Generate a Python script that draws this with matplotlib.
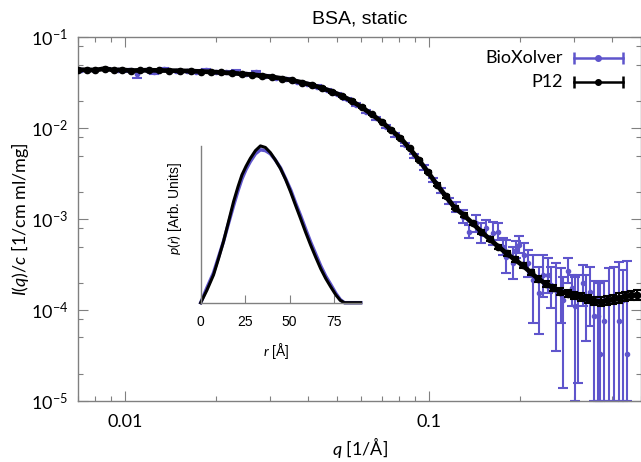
import numpy as np
import matplotlib
matplotlib.use("Agg")
import matplotlib.pyplot as plt
from matplotlib.ticker import LogLocator, FixedLocator, FuncFormatter, NullFormatter

plt.rcParams['font.family'] = ['Lato', 'DejaVu Sans']
plt.rcParams['mathtext.fontset'] = 'custom'
plt.rcParams['mathtext.rm'] = 'Lato'
plt.rcParams['mathtext.it'] = 'Lato:italic'

BLUE = '#5f55cc'
GREY = '#808080'

# P12 curve (q in 1/A, I/c)
p12_q = [0.0070, 0.0075, 0.0080, 0.0086, 0.0092, 0.0098, 0.0105, 0.0112, 0.0120,
         0.0130, 0.0140, 0.0152, 0.0165, 0.0178, 0.0192, 0.0208, 0.0225, 0.0243,
         0.0262, 0.0283, 0.0306, 0.0330, 0.0356, 0.0384, 0.0414, 0.0447, 0.0482,
         0.0520, 0.0560, 0.0603, 0.0650, 0.0700, 0.0752, 0.0808, 0.0866, 0.0928,
         0.0994, 0.1065, 0.1140, 0.1220, 0.1305, 0.1395, 0.1490, 0.1590, 0.1695,
         0.1805, 0.1920, 0.2040, 0.2165, 0.2295, 0.2430, 0.2570, 0.2715, 0.2865,
         0.3020, 0.3180, 0.3345, 0.3515, 0.3690, 0.3870, 0.4055, 0.4245, 0.4440,
         0.4640, 0.4850]
p12_I = [0.0440, 0.0438, 0.0436, 0.0452, 0.0436, 0.0438, 0.0430, 0.0433, 0.0434,
         0.0432, 0.0430, 0.0428, 0.0425, 0.0420, 0.0416, 0.0410, 0.0404, 0.0396,
         0.0388, 0.0378, 0.0366, 0.0352, 0.0336, 0.0318, 0.0298, 0.0276, 0.0252,
         0.0226, 0.0198, 0.0170, 0.0142, 0.0118, 0.0096, 0.0078, 0.0060, 0.0045,
         0.0033, 0.0024, 0.00178, 0.00133, 0.00111, 0.00090, 0.00073, 0.00060, 0.00050,
         0.00042, 0.00036, 0.00031, 0.00026, 0.00022, 0.000195, 0.000175, 0.000160, 0.000152,
         0.000146, 0.000140, 0.000132, 0.000126, 0.000124, 0.000128, 0.000132, 0.000137, 0.000142,
         0.000145, 0.000148]
p12_relerr = [0.02] * 36 + [0.03, 0.03, 0.03, 0.04, 0.04, 0.04, 0.05, 0.05, 0.05,
                            0.06, 0.06, 0.06, 0.07, 0.07, 0.08, 0.08, 0.08, 0.09,
                            0.09, 0.10, 0.10, 0.10, 0.11, 0.11, 0.11, 0.12, 0.12,
                            0.12, 0.12]

# BioXolver, low q (small errors)
bx_q_lo = [0.0072, 0.0079, 0.0087, 0.0095, 0.0103, 0.0110, 0.0118, 0.0125, 0.0135,
           0.0148, 0.0160, 0.0172, 0.0185, 0.0200, 0.0215, 0.0232, 0.0250, 0.0270,
           0.0290, 0.0315, 0.0340, 0.0368, 0.0397, 0.0428, 0.0462, 0.0498, 0.0537,
           0.0578, 0.0623, 0.0671, 0.0723, 0.0777, 0.0836, 0.0897, 0.0962, 0.1030,
           0.1100, 0.1170]
bx_I_lo = [0.0438, 0.0440, 0.0445, 0.0440, 0.0432, 0.0390, 0.0435, 0.0412, 0.0450,
           0.0430, 0.0428, 0.0420, 0.0432, 0.0415, 0.0410, 0.0420, 0.0395, 0.0412,
           0.0378, 0.0360, 0.0345, 0.0324, 0.0306, 0.0286, 0.0262, 0.0238, 0.0210,
           0.0182, 0.0152, 0.0128, 0.0104, 0.0085, 0.0066, 0.0050, 0.0037, 0.0027,
           0.00205, 0.00158]
bx_err_lo = [0.0012, 0.0012, 0.0012, 0.0012, 0.0012, 0.0030, 0.0012, 0.0020, 0.0014,
             0.0012, 0.0012, 0.0012, 0.0012, 0.0012, 0.0012, 0.0012, 0.0012, 0.0012,
             0.0011, 0.0010, 0.0010, 0.0010, 0.0009, 0.0009, 0.0008, 0.0008, 0.0007,
             0.0006, 0.0005, 0.0005, 0.0004, 0.0004, 0.0003, 0.00025, 0.0002, 0.00016,
             0.00013, 0.00011]

# BioXolver, high q (centre, lower and upper end of error bar)
bx_q_hi = [0.1230, 0.1294, 0.1361, 0.1431, 0.1487, 0.1544, 0.1624, 0.1687, 0.1751,
           0.1796, 0.1889, 0.1938, 0.1987, 0.2064, 0.2117, 0.2210, 0.2301, 0.2372,
           0.2463, 0.2527, 0.2624, 0.2725, 0.2774, 0.2866, 0.2962, 0.3030, 0.3107,
           0.3211, 0.3293, 0.3394, 0.3508, 0.3597, 0.3661, 0.3783, 0.3929, 0.4060,
           0.4217, 0.4346, 0.4480]
bx_I_hi = [1.377e-3, 1.069e-3, 7.31e-4, 9.03e-4, 7.02e-4, 7.96e-4, 7.02e-4, 7.31e-4, 5.00e-4,
           3.88e-4, 3.33e-4, 4.60e-4, 5.26e-4, 4.06e-4, 3.28e-4, 2.15e-4, 1.53e-4, 2.44e-4,
           2.44e-4, 1.90e-4, 1.67e-4, 1.67e-4, 1.30e-4, 2.72e-4, 1.74e-4, 1.10e-4, 1.35e-4,
           1.98e-4, 1.30e-4, 1.60e-4, 8.51e-5, 8.51e-5, 3.31e-5, 7.50e-5, 1.30e-4, 1.41e-4,
           7.50e-5, 1.30e-4, 3.28e-5]
bx_low_hi = [1.213e-3, 9.03e-4, 6.18e-4, 7.31e-4, 5.45e-4, 6.45e-4, 5.22e-4, 5.92e-4, 4.06e-4,
             2.55e-4, 2.21e-4, 3.72e-4, 4.23e-4, 3.01e-4, 2.34e-4, 7.19e-5, 5.49e-5, 1.41e-4,
             1.53e-4, 1.05e-4, 3.51e-5, 7.19e-5, 1.39e-5, 1.98e-4, 1.10e-4, 1.0e-5, 1.57e-5,
             1.10e-4, 4.52e-5, 6.61e-5, 1.0e-5, 1.0e-5, 1.0e-5, 1.0e-5, 1.0e-5, 1.0e-5,
             1.0e-5, 1.0e-5, 1.0e-5]
bx_up_hi = [1.563e-3, 1.265e-3, 8.65e-4, 1.115e-3, 9.03e-4, 9.82e-4, 9.42e-4, 9.03e-4, 6.18e-4,
            5.92e-4, 5.00e-4, 5.68e-4, 6.55e-4, 5.45e-4, 4.60e-4, 4.06e-4, 3.01e-4, 4.06e-4,
            3.72e-4, 3.01e-4, 3.28e-4, 2.89e-4, 2.34e-4, 3.72e-4, 2.44e-4, 2.34e-4, 2.44e-4,
            3.15e-4, 2.44e-4, 3.01e-4, 2.07e-4, 1.98e-4, 1.98e-4, 2.07e-4, 2.89e-4, 3.01e-4,
            3.42e-4, 2.77e-4, 3.48e-4]

# inset p(r)
pr_r = [0, 3.5, 7.2, 10, 12.8, 15.5, 18.5, 21, 23.2, 25.5, 27.9, 30.8, 33.6, 36.4,
        39.2, 42, 44.9, 47.8, 50.6, 53.4, 56.2, 59, 61.9, 64.7, 67.5, 70.3, 73.2,
        76, 78.5, 80.8, 90]
pr_p12 = [0, 0.08, 0.177, 0.28, 0.389, 0.51, 0.645, 0.74, 0.815, 0.87, 0.92, 0.97,
          1.0, 0.99, 0.957, 0.91, 0.855, 0.785, 0.706, 0.62, 0.536, 0.45, 0.366,
          0.29, 0.217, 0.155, 0.100, 0.05, 0.015, 0, 0]
pr_bx = [0, 0.095, 0.19, 0.29, 0.39, 0.50, 0.62, 0.715, 0.79, 0.85, 0.90, 0.95,
         0.975, 0.97, 0.95, 0.91, 0.86, 0.79, 0.72, 0.635, 0.555, 0.47, 0.385,
         0.31, 0.235, 0.17, 0.115, 0.06, 0.02, 0, 0]


fig = plt.figure(figsize=(6.41, 4.62), dpi=100)
ax = fig.add_axes([0.1212, 0.1320, 0.8788, 0.7873])
ax.set_xscale('log')
ax.set_yscale('log')
ax.set_xlim(0.007, 0.5)
ax.set_ylim(1e-5, 1e-1)

# BioXolver under P12
ax.errorbar(np.array(bx_q_lo), np.array(bx_I_lo), yerr=np.array(bx_err_lo), fmt='o',
            ms=3, color=BLUE, ecolor=BLUE, elinewidth=1.5, capsize=3.5, capthick=1.5,
            zorder=2)
qh = np.array(bx_q_hi)
Ih = np.array(bx_I_hi)
yerr_h = [Ih - np.array(bx_low_hi), np.array(bx_up_hi) - Ih]
eb = ax.errorbar(qh, Ih, yerr=yerr_h, fmt='o', ms=3, color=BLUE, ecolor=BLUE,
                 elinewidth=1.5, capsize=3.5, capthick=1.5, zorder=2)
for art in eb.lines[1] + eb.lines[2]:
    art.set_clip_on(False)

pq = np.array(p12_q)
pI = np.array(p12_I)
ax.errorbar(pq, pI, yerr=pI * np.array(p12_relerr), fmt='o-', ms=4.5, lw=3.4,
            color='black', ecolor='black', elinewidth=1.5, capsize=3, capthick=1.5,
            zorder=3)

# ticks
ax.xaxis.set_major_locator(FixedLocator([0.01, 0.1]))
ax.xaxis.set_minor_locator(LogLocator(base=10, subs=np.arange(2, 10)))
ax.xaxis.set_major_formatter(FuncFormatter(lambda v, p: f'{v:g}'))
ax.xaxis.set_minor_formatter(NullFormatter())
ax.yaxis.set_major_locator(LogLocator(base=10, numticks=10))
ax.yaxis.set_minor_locator(LogLocator(base=10, subs=(2, 5, 8), numticks=10))
ax.yaxis.set_major_formatter(FuncFormatter(
    lambda v, p: '$\\mathregular{10^{%d}}$' % int(round(np.log10(v)))))
ax.yaxis.set_minor_formatter(NullFormatter())
ax.tick_params(which='both', direction='in', top=True, right=True, color=GREY, width=0.8)
ax.tick_params(which='major', length=7)
ax.tick_params(which='minor', length=3.6)
ax.tick_params(axis='x', which='major', labelsize=13, pad=9)
ax.tick_params(axis='y', which='major', labelsize=13, pad=7)
for s in ax.spines.values():
    s.set_color(GREY)
    s.set_linewidth(1)

fig.text(360 / 641, 1 - 19 / 462, 'BSA, static', ha='center', va='center',
         fontsize=14, family='Liberation Sans')
fig.text(360 / 641, 1 - 448 / 462, '$q$ [1/Å]', ha='center', va='center', fontsize=13)
fig.text(20 / 641, 1 - 219 / 462, '$I(q)/c$ [1/cm ml/mg]', ha='center', va='center',
         rotation=90, fontsize=13)

# legend
for yl, lab, col in [(0.943, 'BioXolver', BLUE), (0.878, 'P12', 'black')]:
    ax.text(0.861, yl, lab, transform=ax.transAxes, ha='right', va='center', fontsize=13)
    ax.plot([0.881, 0.9675], [yl, yl], color=col, lw=1.8, transform=ax.transAxes,
            clip_on=False, zorder=5)
    ax.plot([0.881, 0.9675], [yl, yl], ls='none', marker='|', ms=8, mew=1.8,
            color=col, transform=ax.transAxes, clip_on=False, zorder=5)
    ax.plot([0.924], [yl], 'o', ms=4, color=col, transform=ax.transAxes,
            clip_on=False, zorder=5)

# inset
ins = fig.add_axes([0.3131, 0.3448, 0.2496, 0.3394])
ins.plot(pr_r, pr_bx, color=BLUE, lw=2.5, clip_on=False)
ins.plot(pr_r, pr_p12, color='black', lw=2.2, clip_on=False)
ins.set_xlim(0, 90)
ins.set_ylim(0, 1)
ins.set_xticks([0, 25, 50, 75])
ins.set_yticks([])
ins.tick_params(axis='x', direction='in', length=6, color=GREY, width=0.8,
                labelsize=10, pad=9)
for lab in ins.get_xticklabels():
    lab.set_family('Liberation Sans')
ins.patch.set_alpha(0)
for side in ['top', 'right']:
    ins.spines[side].set_visible(False)
for side in ['left', 'bottom']:
    ins.spines[side].set_color(GREY)
    ins.spines[side].set_linewidth(1)
ins.text(0.475, -0.31, '$r$ [Å]', transform=ins.transAxes, ha='center', va='center',
         fontsize=10, family='Liberation Sans')
ins.text(-0.16, 0.6, '$p(r)$ [Arb. Units]', transform=ins.transAxes, ha='center',
         va='center', rotation=90, fontsize=10, family='Liberation Sans')

fig.savefig('out.png', dpi=100)
